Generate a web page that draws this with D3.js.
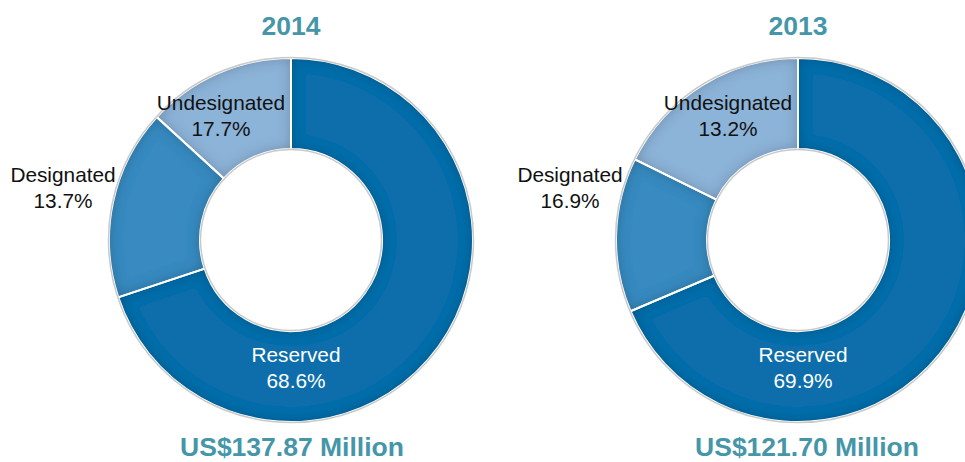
<!DOCTYPE html>
<html>
<head>
<meta charset="utf-8">
<script src="https://cdn.jsdelivr.net/npm/d3@7"></script>
<style>
  html, body { margin: 0; padding: 0; background: #fff; }
  svg { display: block; font-family: "Liberation Sans", Arial, sans-serif; }
</style>
</head>
<body>
<script>
// categories, in drawing order (clockwise from 12 o'clock)
var categories = ["Reserved", "Designated", "Undesignated"];
var years = ["2014", "2013"];
var totals = ["US$137.87 Million", "US$121.70 Million"];

// printed shares
var share2014 = [68.6, 13.7, 17.7];
var share2013 = [69.9, 16.9, 13.2];

// ring split as it is drawn in the picture (each ring uses the other year's split)
var ring2014 = [69.9, 16.9, 13.2];
var ring2013 = [68.6, 13.7, 17.7];

var colors = ["#0a6eab", "#388ac0", "#8cb3d8"];
var textColors = ["#ffffff", "#111111", "#111111"];
var teal = "#4596a8";

var width = 965, height = 462;
var outerR = 182, innerR = 91;

var panels = [
  { cx: 291, cy: 240, year: years[0], total: totals[0], totalX: 292, shares: share2014, ring: ring2014 },
  { cx: 798, cy: 240, year: years[1], total: totals[1], totalX: 807, shares: share2013, ring: ring2013 }
];

// label offsets from the ring centre, per category
var labelPos = [[5, 122], [-228, -58], [-70, -130]];

var svg = d3.select("body").append("svg")
    .attr("width", width)
    .attr("height", height);

// inner shadow on each slice
var defs = svg.append("defs");
var f = defs.append("filter").attr("id", "inset")
    .attr("x", "-10%").attr("y", "-10%").attr("width", "120%").attr("height", "120%");
f.append("feComponentTransfer").attr("in", "SourceAlpha").attr("result", "inv")
  .append("feFuncA").attr("type", "table").attr("tableValues", "1 0");
f.append("feGaussianBlur").attr("in", "inv").attr("stdDeviation", 7).attr("result", "blur");
f.append("feFlood").attr("flood-color", "#000").attr("flood-opacity", 0.45).attr("result", "col");
f.append("feComposite").attr("in", "col").attr("in2", "blur").attr("operator", "in").attr("result", "shadow");
f.append("feComposite").attr("in", "shadow").attr("in2", "SourceAlpha").attr("operator", "in").attr("result", "insh");
var merge = f.append("feMerge");
merge.append("feMergeNode").attr("in", "SourceGraphic");
merge.append("feMergeNode").attr("in", "insh");

var pie = d3.pie().sort(null).value(function(d) { return d; });
var arc = d3.arc().innerRadius(innerR).outerRadius(outerR);

panels.forEach(function(p) {
  var g = svg.append("g").attr("transform", "translate(" + p.cx + "," + p.cy + ")");
  var arcs = pie(p.ring);

  g.selectAll("path.slice")
    .data(arcs)
    .enter()
    .append("path")
      .attr("class", "slice")
      .attr("d", arc)
      .attr("fill", function(d, i) { return colors[i]; })
      .attr("filter", "url(#inset)");

  // white separators
  g.selectAll("path.sep")
    .data(arcs)
    .enter()
    .append("path")
      .attr("class", "sep")
      .attr("d", arc)
      .attr("fill", "none")
      .attr("stroke", "#fff")
      .attr("stroke-width", 2);

  // light grey rims
  [outerR + 0.5, innerR - 0.5].forEach(function(r) {
    g.append("circle")
      .attr("r", r)
      .attr("fill", "none")
      .attr("stroke", "#c9c9c9")
      .attr("stroke-width", 1.5);
  });

  // labels
  categories.forEach(function(c, i) {
    var t = g.append("text")
      .attr("text-anchor", "middle")
      .attr("font-size", "20.8px")
      .attr("fill", textColors[i]);
    t.append("tspan").attr("x", labelPos[i][0]).attr("y", labelPos[i][1]).text(c);
    t.append("tspan").attr("x", labelPos[i][0]).attr("y", labelPos[i][1] + 26)
      .text(d3.format(".1f")(p.shares[i]) + "%");
  });

  svg.append("text")
    .attr("x", p.cx)
    .attr("y", 35)
    .attr("text-anchor", "middle")
    .attr("font-size", "26.5px")
    .attr("font-weight", "bold")
    .attr("fill", teal)
    .text(p.year);

  svg.append("text")
    .attr("x", p.totalX)
    .attr("y", 456)
    .attr("text-anchor", "middle")
    .attr("font-size", "26.5px")
    .attr("font-weight", "bold")
    .attr("fill", teal)
    .text(p.total);
});
</script>
</body>
</html>
